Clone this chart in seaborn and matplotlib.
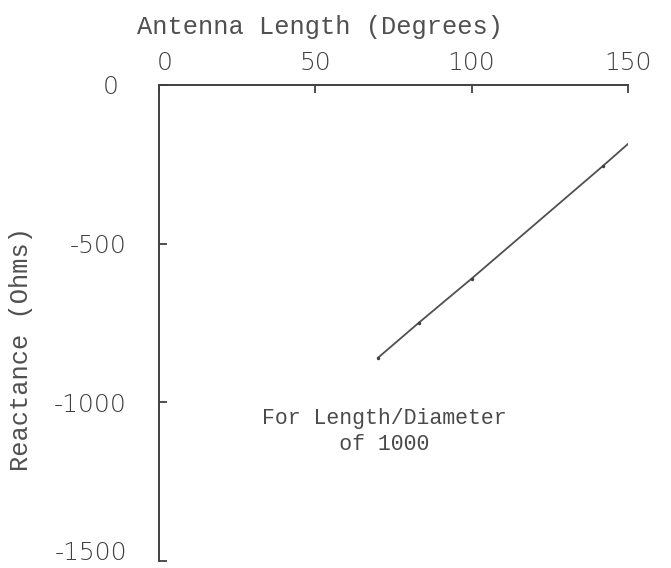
import matplotlib
matplotlib.use("Agg")
import matplotlib.pyplot as plt
import matplotlib.transforms as mtransforms
import seaborn as sns
import pandas as pd

# Data
antenna_length = [70, 83, 100, 142, 151]
reactance = [-860, -750, -610, -255, -177]
x_ticks = [0, 50, 100, 150]
x_tick_labels = ["0", "50", "100", "150"]
y_ticks = [0, -500, -1000, -1500]
y_tick_labels = ["0", "-500", "-1000", "-1500"]

sns.set_style("white")
plt.rcParams['font.family'] = ['DejaVu Sans']

df = pd.DataFrame({"Antenna Length (Degrees)": antenna_length,
                   "Reactance (Ohms)": reactance})

fig = plt.figure(figsize=(6.71, 5.68), dpi=100)
ax = fig.add_axes([159/671, 1 - 561/568, (628-159)/671, (561-85)/568])

sns.lineplot(data=df, x="Antenna Length (Degrees)", y="Reactance (Ohms)",
             ax=ax, color="#505050", linewidth=1.3, marker="o",
             markersize=2.5, markeredgewidth=0, markerfacecolor="#404040")

ax.set_xlim(0, 150)
ax.set_ylim(-1500, 0)

ax.xaxis.set_ticks_position("top")
ax.xaxis.set_label_position("top")
ax.set_xticks(x_ticks)
ax.set_xticklabels(x_tick_labels)
ax.set_yticks(y_ticks)
ax.set_yticklabels(y_tick_labels)

for s in ["right", "bottom"]:
    ax.spines[s].set_visible(False)
for s in ["top", "left"]:
    ax.spines[s].set_color("#404040")
    ax.spines[s].set_linewidth(1.4)

ax.tick_params(axis="x", direction="in", length=6, width=1.3, color="#404040",
               pad=7, top=True, bottom=False)
ax.tick_params(axis="y", direction="in", length=6, width=1.3, color="#404040",
               pad=23, left=True, right=False)
for lab in ax.get_xticklabels() + ax.get_yticklabels():
    lab.set_fontfamily("DejaVu Sans")
    lab.set_fontweight("light")
    lab.set_fontsize(18)
    lab.set_color("#404040")

ylabs = ax.get_yticklabels()
# nudge the lowest y label up so it stays inside the figure
ylabs[-1].set_transform(ylabs[-1].get_transform() +
                        mtransforms.ScaledTranslation(0, 11/100, fig.dpi_scale_trans))
# the "0" label sits a little further left in the reference
ylabs[0].set_transform(ylabs[0].get_transform() +
                       mtransforms.ScaledTranslation(-8/100, 0, fig.dpi_scale_trans))
xlabs = ax.get_xticklabels()
xlabs[0].set_transform(xlabs[0].get_transform() +
                       mtransforms.ScaledTranslation(6/100, 0, fig.dpi_scale_trans))

monofont = dict(family="Liberation Mono", size=18.3, color="#505050")
ax.set_xlabel("Antenna Length (Degrees)", **monofont)
ax.set_ylabel("Reactance (Ohms)", **monofont)
ax.xaxis.set_label_coords((320-159)/(628-159), 1 + (85-34)/(561-85))
ax.yaxis.set_label_coords((33-159)/(628-159), (561-349)/(561-85))

ax.text(33, -1093, "For Length/Diameter\n      of 1000", family="Liberation Mono",
        size=15.5, color="#4a4a4a", ha="left", va="center", linespacing=1.3)

fig.savefig("out.png", dpi=100)
